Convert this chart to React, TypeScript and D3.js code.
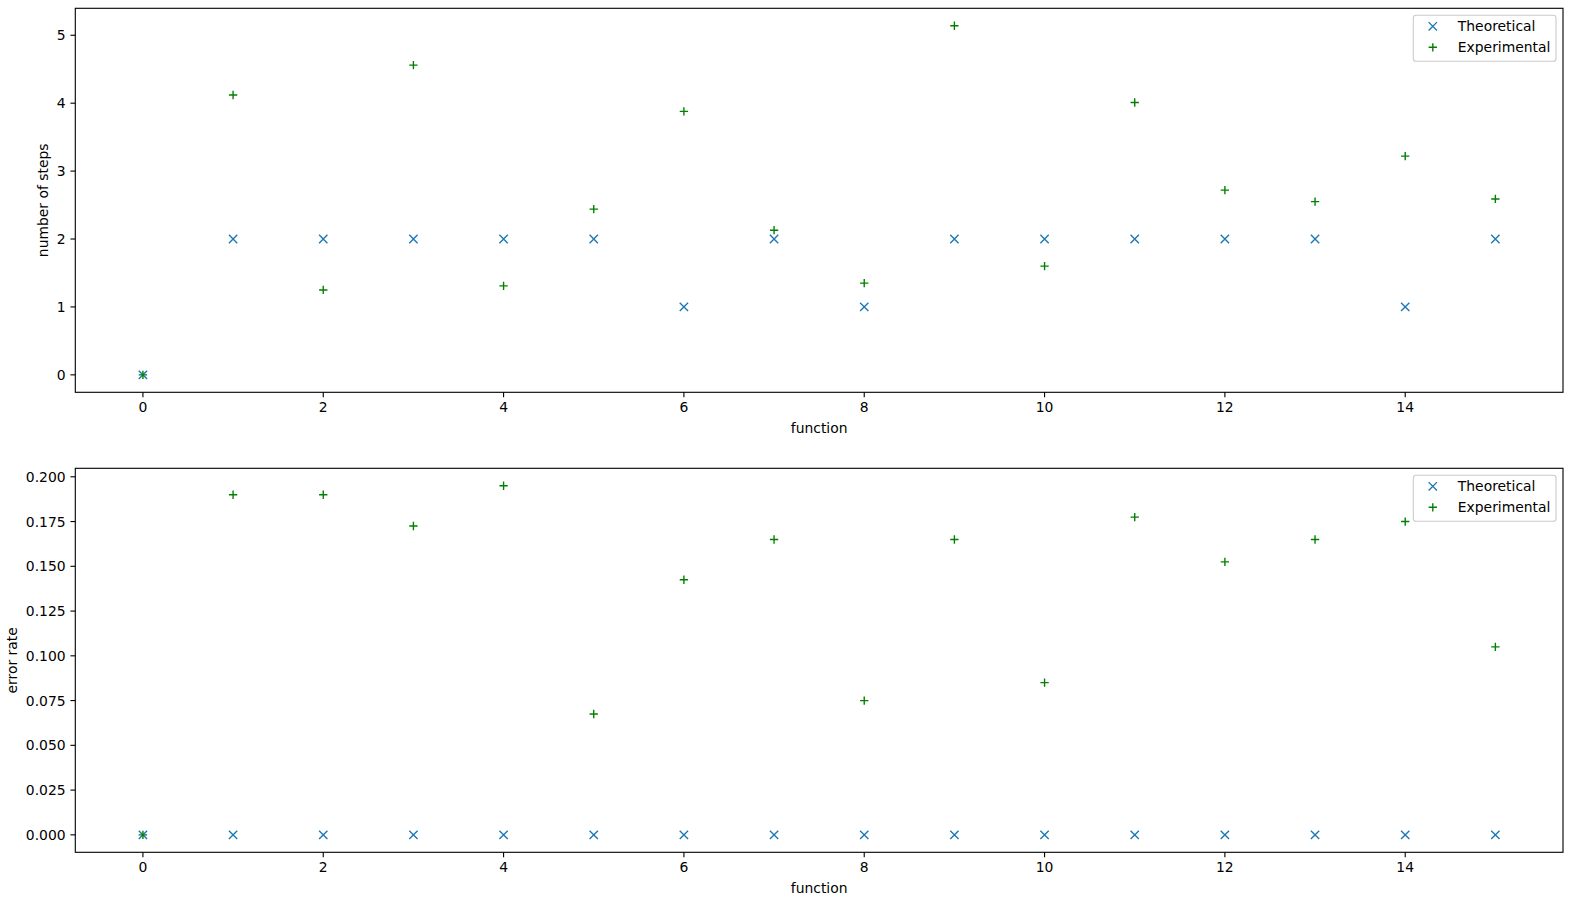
import React from "react";
import * as d3 from "d3";

const functions = [0, 1, 2, 3, 4, 5, 6, 7, 8, 9, 10, 11, 12, 13, 14, 15];
const stepsTheoretical = [0, 2, 2, 2, 2, 2, 1, 2, 1, 2, 2, 2, 2, 2, 1, 2];
const stepsExperimental = [0, 4.12, 1.25, 4.56, 1.31, 2.44, 3.88, 2.13, 1.35, 5.14, 1.6, 4.01, 2.72, 2.55, 3.22, 2.59];
const errTheoretical = [0, 0, 0, 0, 0, 0, 0, 0, 0, 0, 0, 0, 0, 0, 0, 0];
const errExperimental = [0, 0.19, 0.19, 0.1725, 0.195, 0.0675, 0.1425, 0.165, 0.075, 0.165, 0.085, 0.1775, 0.1525, 0.165, 0.175, 0.105];
const xTicks = [0, 2, 4, 6, 8, 10, 12, 14];
const stepsTicks = [0, 1, 2, 3, 4, 5];
const errTicks = [0, 0.025, 0.05, 0.075, 0.1, 0.125, 0.15, 0.175, 0.2];
const seriesNames = ["Theoretical", "Experimental"];

const BLUE = "#1f77b4";
const GREEN = "#008000";
const FONT = "DejaVu Sans";
const FS = 13.9;

function pad(ext: [number, number]): [number, number] {
  const span = ext[1] - ext[0];
  return [ext[0] - span * 0.05, ext[1] + span * 0.05];
}

function XMark({ x, y }: { x: number; y: number }) {
  const r = 4.17;
  return (
    <path d={`M${x - r},${y - r}L${x + r},${y + r}M${x - r},${y + r}L${x + r},${y - r}`} stroke={BLUE} strokeWidth={1.39} fill="none" />
  );
}
function PlusMark({ x, y }: { x: number; y: number }) {
  const r = 4.17;
  return (
    <path d={`M${x - r},${y}L${x + r},${y}M${x},${y - r}L${x},${y + r}`} stroke={GREEN} strokeWidth={1.39} fill="none" />
  );
}

function Panel({
  top, bottom, theo, exp, yTicks, fmt, ylabel, ylabelX,
}: {
  top: number; bottom: number; theo: number[]; exp: number[]; yTicks: number[];
  fmt: (v: number) => string; ylabel: string; ylabelX: number;
}) {
  const left = 75.3, right = 1563;
  const x = d3.scaleLinear().domain(pad([0, 15])).range([left, right]);
  const all = theo.concat(exp);
  const y = d3.scaleLinear().domain(pad([d3.min(all) as number, d3.max(all) as number])).range([bottom, top]);
  const lx = right - 7 - 142.7;
  const ly = top + 7;
  return (
    <g>
      {functions.map((f, i) => <XMark key={"t" + i} x={x(f)} y={y(theo[i])} />)}
      {functions.map((f, i) => <PlusMark key={"e" + i} x={x(f)} y={y(exp[i])} />)}
      <rect x={left} y={top} width={right - left} height={bottom - top} fill="none" stroke="#000" strokeWidth={1.11} />
      {xTicks.map((t) => (
        <g key={"x" + t}>
          <line x1={x(t)} x2={x(t)} y1={bottom} y2={bottom + 4.86} stroke="#000" strokeWidth={1.11} />
          <text x={x(t)} y={bottom + 19.5} textAnchor="middle" fontFamily={FONT} fontSize={FS} fill="#000">{t}</text>
        </g>
      ))}
      {yTicks.map((t) => (
        <g key={"y" + t}>
          <line x1={left} x2={left - 4.86} y1={y(t)} y2={y(t)} stroke="#000" strokeWidth={1.11} />
          <text x={left - 9.7} y={y(t) + 5} textAnchor="end" fontFamily={FONT} fontSize={FS} fill="#000">{fmt(t)}</text>
        </g>
      ))}
      <text x={(left + right) / 2} y={bottom + 40.5} textAnchor="middle" fontFamily={FONT} fontSize={FS} fill="#000">function</text>
      <text transform={`translate(${ylabelX},${(top + bottom) / 2}) rotate(-90)`} textAnchor="middle" fontFamily={FONT} fontSize={FS} fill="#000">{ylabel}</text>
      <rect x={lx} y={ly} width={142.7} height={46} rx={2.8} fill="#fff" fillOpacity={0.8} stroke="#cccccc" strokeWidth={1.11} />
      {seriesNames.map((s, i) => (
        <g key={s}>
          {i === 0 ? <XMark x={lx + 19.5} y={ly + 11 + i * 21} /> : <PlusMark x={lx + 19.5} y={ly + 11 + i * 21} />}
          <text x={lx + 44.5} y={ly + 16 + i * 21} fontFamily={FONT} fontSize={FS} fill="#000">{s}</text>
        </g>
      ))}
    </g>
  );
}

export default function App() {
  return (
    <svg width={1573} height={900} style={{ position: "absolute", left: 0, top: 0, background: "#fff" }}>
      <rect width={1573} height={900} fill="#fff" />
      <Panel top={8.3} bottom={392.3} theo={stepsTheoretical} exp={stepsExperimental} yTicks={stepsTicks}
        fmt={(v) => String(v)} ylabel="number of steps" ylabelX={47.5} />
      <Panel top={468.3} bottom={852.3} theo={errTheoretical} exp={errExperimental} yTicks={errTicks}
        fmt={(v) => d3.format(".3f")(v)} ylabel="error rate" ylabelX={16.5} />
    </svg>
  );
}
